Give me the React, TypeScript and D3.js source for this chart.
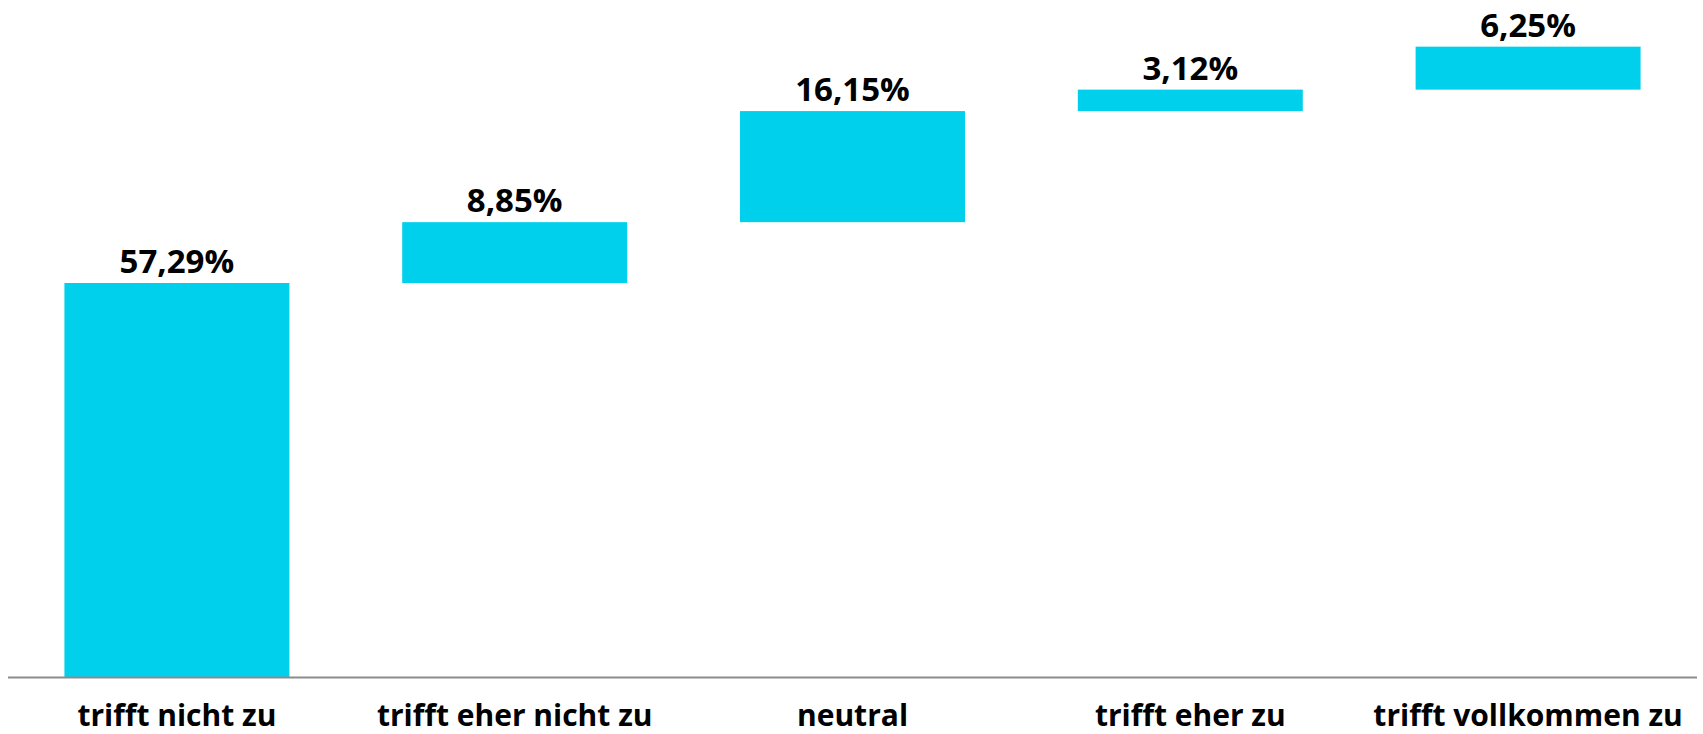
import { useEffect, useRef } from 'react';
import * as d3 from 'd3';

const categories = ['trifft nicht zu', 'trifft eher nicht zu', 'neutral', 'trifft eher zu', 'trifft vollkommen zu'];
const values = [57.29, 8.85, 16.15, 3.12, 6.25];
const valueLabels = ['57,29%', '8,85%', '16,15%', '3,12%', '6,25%'];

const WIDTH = 1703;
const HEIGHT = 734;
const FONT = '"Open Sans", sans-serif';

const App = () => {
  const chartRef = useRef<SVGSVGElement | null>(null);

  useEffect(() => {
    if (!chartRef.current) return;
    const svg = d3.select(chartRef.current);
    svg.selectAll('*').remove();

    // Waterfall: each bar starts where the previous ended
    let running = 0;
    const steps = values.map((v, i) => {
      const start = running;
      running += v;
      return { category: categories[i], label: valueLabels[i], start, end: running };
    });

    const xScale = d3.scaleBand()
      .domain(categories)
      .range([8, 1697])
      .paddingInner(0.334)
      .paddingOuter(0.167);

    const yScale = d3.scaleLinear()
      .domain([0, 100])
      .range([677, -10.7]);

    // Bars
    svg.append('g')
      .selectAll('rect')
      .data(steps)
      .join('rect')
      .attr('x', d => xScale(d.category)!)
      .attr('y', d => yScale(d.end))
      .attr('width', xScale.bandwidth())
      .attr('height', d => yScale(d.start) - yScale(d.end))
      .attr('fill', '#00D0EC');

    // Value labels
    svg.append('g')
      .selectAll('text')
      .data(steps)
      .join('text')
      .attr('x', d => xScale(d.category)! + xScale.bandwidth() / 2)
      .attr('y', d => yScale(d.end) - 10)
      .attr('text-anchor', 'middle')
      .style('font-family', FONT)
      .style('font-weight', 'bold')
      .style('font-size', '33px')
      .style('fill', '#000')
      .text(d => d.label);

    // Baseline axis
    svg.append('line')
      .attr('x1', 8)
      .attr('x2', 1697)
      .attr('y1', yScale(0) + 0.5)
      .attr('y2', yScale(0) + 0.5)
      .attr('stroke', '#8c8c8c')
      .attr('stroke-width', 2);

    // Category labels
    svg.append('g')
      .selectAll('text')
      .data(categories)
      .join('text')
      .attr('x', d => xScale(d)! + xScale.bandwidth() / 2)
      .attr('y', 726)
      .attr('text-anchor', 'middle')
      .style('font-family', FONT)
      .style('font-weight', 'bold')
      .style('font-size', '30px')
      .style('fill', '#000')
      .text(d => d);
  }, []);

  return (
    <svg
      ref={chartRef}
      width={WIDTH}
      height={HEIGHT}
      style={{ position: 'absolute', left: 0, top: 0, background: '#fff' }}
    />
  );
};

export default App;
